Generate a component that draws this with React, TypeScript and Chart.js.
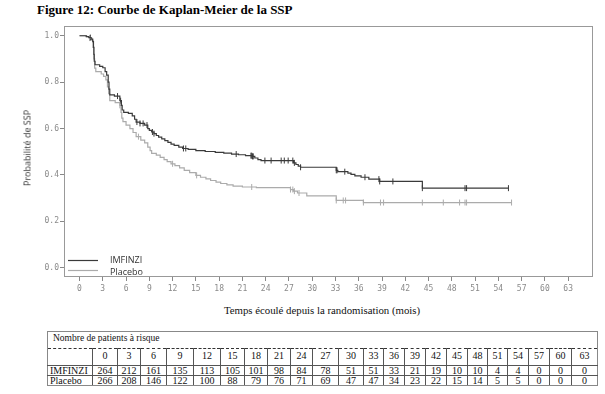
import React, { useEffect, useRef } from 'react';
import { Chart, registerables } from 'chart.js';

Chart.register(...registerables);

// ---------- data ----------
const timeTicks = [0, 3, 6, 9, 12, 15, 18, 21, 24, 27, 30, 33, 36, 39, 42, 45, 48, 51, 54, 57, 60, 63];
const yTicks = [0, 0.2, 0.4, 0.6, 0.8, 1.0];

const imfinziAtRisk = [264, 212, 161, 135, 113, 105, 101, 98, 84, 78, 51, 51, 33, 21, 19, 10, 10, 4, 4, 0, 0, 0];
const placeboAtRisk = [266, 208, 146, 122, 100, 88, 79, 76, 71, 69, 47, 47, 34, 23, 22, 15, 14, 5, 5, 0, 0, 0];

// Kaplan-Meier steps: survival value reached at each time
const imfinziTimes = [0, 0.9, 1.2, 1.5, 1.7, 1.8, 1.85, 1.9, 2.0, 2.6, 3.0, 3.3, 3.5, 3.7, 3.8, 3.9, 4.5, 5.2, 5.4, 5.5, 5.7, 6.3, 6.8, 7.1, 7.3, 7.8, 8.4, 8.8, 9.0, 9.3, 9.6, 9.9, 10.2, 10.6, 11.0, 11.4, 11.8, 12.2, 12.8, 13.3, 14.0, 15.0, 16.2, 17.5, 18.6, 19.6, 20.5, 21.4, 22.3, 22.6, 23.0, 23.4, 27.6, 27.9, 28.2, 28.5, 33.1, 33.3, 34.6, 35.0, 35.5, 36.3, 37.3, 38.7, 44.2, 55.3];
const imfinziSurv = [1.0, 0.996, 0.992, 0.985, 0.975, 0.95, 0.92, 0.89, 0.875, 0.868, 0.862, 0.845, 0.83, 0.8, 0.77, 0.745, 0.74, 0.72, 0.7, 0.68, 0.67, 0.665, 0.655, 0.64, 0.628, 0.622, 0.615, 0.6, 0.592, 0.585, 0.578, 0.57, 0.563, 0.555, 0.548, 0.54, 0.533, 0.527, 0.52, 0.514, 0.51, 0.505, 0.501, 0.497, 0.494, 0.49, 0.487, 0.483, 0.48, 0.473, 0.466, 0.462, 0.452, 0.445, 0.438, 0.433, 0.42, 0.414, 0.408, 0.402, 0.396, 0.39, 0.382, 0.372, 0.343, 0.343];

const placeboTimes = [0, 0.8, 1.3, 1.6, 1.75, 1.85, 1.95, 2.1, 2.8, 3.1, 3.4, 3.6, 3.75, 3.9, 4.6, 5.2, 5.35, 5.45, 5.6, 6.0, 6.5, 6.9, 7.3, 7.9, 8.4, 8.8, 9.1, 9.3, 9.9, 10.4, 10.9, 11.3, 11.8, 12.3, 12.9, 13.5, 14.2, 15.0, 15.6, 16.3, 16.9, 17.6, 18.2, 19.0, 19.8, 21.0, 22.8, 27.2, 27.6, 28.1, 29.3, 33.1, 36.6, 55.7];
const placeboSurv = [1.0, 0.996, 0.99, 0.98, 0.95, 0.9, 0.86, 0.845, 0.835, 0.825, 0.81, 0.78, 0.75, 0.72, 0.712, 0.7, 0.67, 0.645, 0.63, 0.615, 0.6, 0.583, 0.565, 0.55, 0.538, 0.52, 0.505, 0.493, 0.485, 0.476, 0.466, 0.457, 0.448, 0.44, 0.43, 0.42, 0.41, 0.398, 0.39, 0.383, 0.376, 0.369, 0.363, 0.357, 0.352, 0.348, 0.345, 0.337, 0.33, 0.322, 0.31, 0.29, 0.281, 0.281];

const imfinziCensored = [1.4, 4.9, 5.3, 7.4, 7.8, 8.2, 8.7, 9.4, 9.6, 13.4, 13.7, 20.2, 22.1, 22.2, 22.3, 22.4, 23.9, 24.7, 26.0, 26.4, 26.9, 27.5, 27.7, 28.5, 33.1, 33.2, 34.2, 36.8, 38.6, 38.7, 40.4, 44.2, 49.7, 49.9, 55.3];
const placeboCensored = [1.3, 5.2, 7.6, 12.0, 15.1, 22.2, 27.2, 27.5, 27.7, 28.3, 33.1, 34.0, 34.3, 36.6, 38.8, 39.2, 44.2, 46.9, 49.0, 49.7, 49.9, 55.7];

const seriesNames = ['IMFINZI', 'Placebo'];

// column widths of the at-risk table
const colWidths = [45, 25, 23, 26, 27, 27, 24, 23, 23, 22, 26, 25, 20, 21, 21, 21, 21, 20, 20, 21, 21, 22, 26];

const DARK = '#3a3a3a';
const LIGHT = '#ababab';

function stepValue(times: number[], surv: number[], t: number) {
  let v = surv[0];
  for (let i = 0; i < times.length; i++) {
    if (times[i] <= t) v = surv[i];
  }
  return v;
}

const framePlugin = {
  id: 'frameLegend',
  afterDraw(chart: any) {
    const { ctx, chartArea } = chart;
    const { left, top, right, bottom } = chartArea;
    ctx.save();
    ctx.strokeStyle = '#999';
    ctx.lineWidth = 1;
    ctx.strokeRect(left + 0.5, top + 0.5, right - left - 1, bottom - top - 1);
    // legend
    const items = [
      { label: seriesNames[0], color: DARK, y: bottom - 17 },
      { label: seriesNames[1], color: LIGHT, y: bottom - 7 },
    ];
    ctx.font = '9px "Open Sans", sans-serif';
    ctx.textBaseline = 'middle';
    items.forEach((it, i) => {
      ctx.strokeStyle = it.color;
      ctx.lineWidth = 1.2;
      ctx.beginPath();
      ctx.moveTo(left + 4, Math.round(it.y) + 0.5);
      ctx.lineTo(left + 34, Math.round(it.y) + 0.5);
      ctx.stroke();
      ctx.fillStyle = '#333';
      ctx.fillText(it.label, left + 46, it.y + (i === 0 ? 0 : 2));
    });
    ctx.restore();
  },
};

function KMChart() {
  const ref = useRef<HTMLCanvasElement>(null);
  useEffect(() => {
    if (!ref.current) return;
    const tickFont = { family: '"DejaVu Sans Mono", monospace', size: 8 };
    const chart = new Chart(ref.current, {
      type: 'line',
      data: {
        datasets: [
          {
            label: seriesNames[0],
            data: imfinziTimes.map((t, i) => ({ x: t, y: imfinziSurv[i] })),
            stepped: 'before',
            borderColor: DARK,
            borderWidth: 1.2,
            pointRadius: 0,
            fill: false,
          },
          {
            label: seriesNames[1],
            data: placeboTimes.map((t, i) => ({ x: t, y: placeboSurv[i] })),
            stepped: 'before',
            borderColor: LIGHT,
            borderWidth: 1.2,
            pointRadius: 0,
            fill: false,
          },
          {
            label: 'c1',
            data: imfinziCensored.map((t) => ({ x: t, y: stepValue(imfinziTimes, imfinziSurv, t) })),
            showLine: false,
            pointStyle: 'line',
            rotation: 90,
            pointRadius: 3,
            borderColor: DARK,
            backgroundColor: DARK,
            borderWidth: 1,
          },
          {
            label: 'c2',
            data: placeboCensored.map((t) => ({ x: t, y: stepValue(placeboTimes, placeboSurv, t) })),
            showLine: false,
            pointStyle: 'line',
            rotation: 90,
            pointRadius: 3,
            borderColor: LIGHT,
            backgroundColor: LIGHT,
            borderWidth: 1,
          },
        ],
      },
      options: {
        animation: false,
        responsive: false,
        events: [],
        layout: { padding: { left: 0, top: 26, right: 12, bottom: 0 } },
        plugins: { legend: { display: false }, tooltip: { enabled: false }, title: { display: false } },
        scales: {
          x: {
            type: 'linear',
            min: -2,
            max: 66.2,
            afterBuildTicks: (s: any) => {
              s.ticks = timeTicks.map((v) => ({ value: v }));
            },
            afterFit: (s: any) => {
              s.height = 23;
            },
            grid: { display: true, drawOnChartArea: false, drawTicks: true, tickLength: 4, color: '#888' },
            border: { display: false },
            ticks: {
              font: tickFont,
              color: '#8a8a8a',
              padding: 3,
              maxRotation: 0,
              autoSkip: false,
              callback: (v: any) => String(v),
            },
          },
          y: {
            type: 'linear',
            min: -0.04,
            max: 1.042,
            afterBuildTicks: (s: any) => {
              s.ticks = yTicks.map((v) => ({ value: v }));
            },
            afterFit: (s: any) => {
              s.width = 64;
            },
            grid: { display: true, drawOnChartArea: false, drawTicks: true, tickLength: 4, color: '#888' },
            border: { display: false },
            ticks: {
              font: tickFont,
              color: '#8a8a8a',
              padding: 1,
              callback: (v: any) => Number(v).toFixed(1),
            },
          },
        },
      },
      plugins: [framePlugin],
    } as any);
    return () => chart.destroy();
  }, []);
  return <canvas ref={ref} width={605} height={300} style={{ position: 'absolute', left: 0, top: 0, width: 605, height: 300 }} />;
}

export default function App() {
  const serif = '"Liberation Serif", "Times New Roman", serif';
  const outer = '1px solid #888';
  const inner = '1px solid #555';
  const cellBase: React.CSSProperties = { padding: 0, textAlign: 'center', overflow: 'visible', whiteSpace: 'nowrap' };
  return (
    <div style={{ position: 'absolute', left: 0, top: 0, width: 605, height: 394, background: '#fff', overflow: 'hidden' }}>
      <div style={{ position: 'absolute', left: 37, top: 2, font: `bold 13px ${serif}`, color: '#000', whiteSpace: 'nowrap' }}>
        Figure 12: Courbe de Kaplan-Meier de la SSP
      </div>
      <KMChart />
      <div
        style={{
          position: 'absolute',
          left: 26.5,
          top: 148,
          transform: 'translate(-50%, -50%) rotate(-90deg)',
          font: '9px "Open Sans", sans-serif',
          color: '#333',
          whiteSpace: 'nowrap',
        }}
      >
        Probabilité de SSP
      </div>
      <div
        style={{
          position: 'absolute',
          left: 322,
          top: 310,
          transform: 'translate(-50%, -50%)',
          font: `10.8px ${serif}`,
          color: '#111',
          whiteSpace: 'nowrap',
        }}
      >
        Temps écoulé depuis la randomisation (mois)
      </div>
      <table
        style={{
          position: 'absolute',
          left: 47,
          top: 331,
          width: 550,
          borderCollapse: 'collapse',
          tableLayout: 'fixed',
          fontFamily: serif,
          fontSize: 10,
          color: '#111',
        }}
      >
        <colgroup>
          {colWidths.map((w, i) => (
            <col key={i} style={{ width: w }} />
          ))}
        </colgroup>
        <tbody>
          <tr style={{ height: 17 }}>
            <td
              colSpan={colWidths.length}
              style={{
                ...cellBase,
                textAlign: 'left',
                borderTop: outer,
                borderLeft: outer,
                borderRight: outer,
                borderBottom: '1px dashed #333',
                padding: '0 0 0 5px',
                verticalAlign: 'top',
                lineHeight: '13px',
                fontSize: 9.5,
              }}
            >
              Nombre de patients à risque
            </td>
          </tr>
          <tr style={{ height: 17 }}>
            <td style={{ ...cellBase, borderLeft: outer, borderBottom: inner }}></td>
            {timeTicks.map((t, i) => (
              <td
                key={i}
                style={{
                  ...cellBase,
                  borderLeft: inner,
                  borderRight: i === timeTicks.length - 1 ? outer : undefined,
                  borderBottom: inner,
                  verticalAlign: 'top',
                  lineHeight: '13px',
                }}
              >
                {t}
              </td>
            ))}
          </tr>
          {[imfinziAtRisk, placeboAtRisk].map((row, r) => (
            <tr key={r} style={{ height: 9 }}>
              <td
                style={{
                  ...cellBase,
                  textAlign: 'left',
                  paddingLeft: 2,
                  borderLeft: outer,
                  borderBottom: r === 1 ? outer : inner,
                  lineHeight: '9px',
                }}
              >
                {seriesNames[r]}
              </td>
              {row.map((v, i) => (
                <td
                  key={i}
                  style={{
                    ...cellBase,
                    borderLeft: inner,
                    borderRight: i === row.length - 1 ? outer : undefined,
                    borderBottom: r === 1 ? outer : inner,
                    lineHeight: '9px',
                  }}
                >
                  {v}
                </td>
              ))}
            </tr>
          ))}
        </tbody>
      </table>
    </div>
  );
}
